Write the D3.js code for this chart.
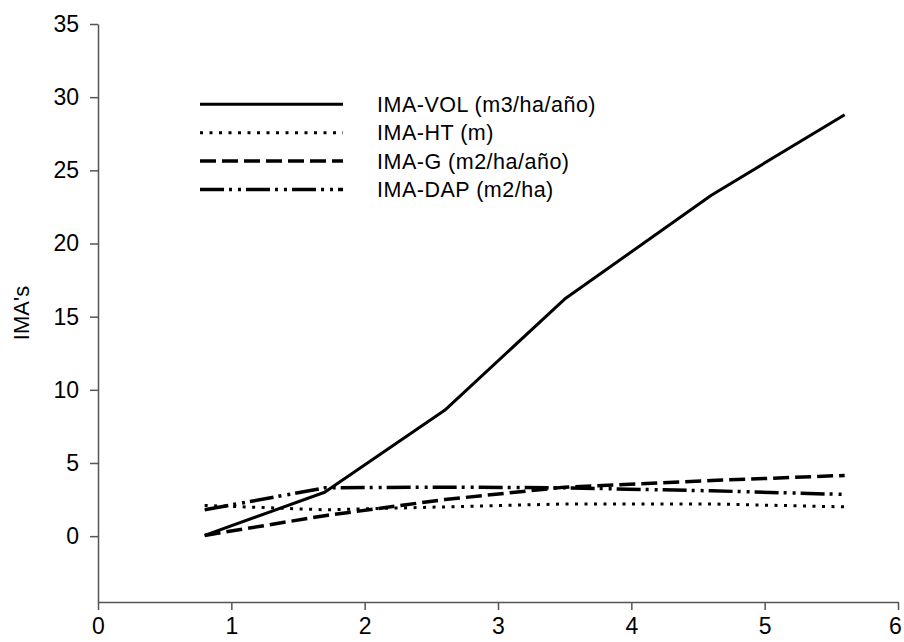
<!DOCTYPE html>
<html>
<head>
<meta charset="utf-8">
<script src="https://cdn.jsdelivr.net/npm/d3@7"></script>
<style>
  body { margin: 0; background: #fff; }
  text { font-family: "Liberation Sans", Arial, sans-serif; fill: #000; }
</style>
</head>
<body>
<div id="chartDiv"></div>
<script>
// data
var ages = [0.8, 1.7, 2.6, 3.5, 4.6, 5.6];
var imaVol = [0.05, 3.0, 8.6, 16.2, 23.3, 28.8];
var imaHt = [2.1, 1.8, 2.0, 2.2, 2.2, 2.0];
var imaG = [0.05, 1.4, 2.5, 3.35, 3.8, 4.15];
var imaDap = [1.8, 3.3, 3.35, 3.3, 3.1, 2.85];
var seriesNames = ["IMA-VOL (m3/ha/año)", "IMA-HT (m)", "IMA-G (m2/ha/año)", "IMA-DAP (m2/ha)"];
var xTicks = [0, 1, 2, 3, 4, 5, 6];
var yTicks = [0, 5, 10, 15, 20, 25, 30, 35];

var chart = {};
chart["width"] = 904,
chart["height"] = 642,
chart["margin"] = {top: 24, right: 6, bottom: 40, left: 98},
chart["xScale"] = d3.scaleLinear()
    .domain([0, 6])
    .range([chart.margin.left, chart.width - chart.margin.right]),
chart["yScale"] = d3.scaleLinear()
    .domain([-4.5, 35])
    .range([chart.height - chart.margin.bottom, chart.margin.top]);

// line styles, one per series
var styles = [
    {width: 3, dash: null},
    {width: 3, dash: "3,6.5"},
    {width: 3.5, dash: "16,6"},
    {width: 3.5, dash: "24,5,3,6,3,5"}
];
var series = [imaVol, imaHt, imaG, imaDap].map(function(vals, i) {
    return {name: seriesNames[i], style: styles[i], values: vals.map(function(v, j) { return {x: ages[j], y: v}; })};
});

var svg = d3.select("#chartDiv").append("svg")
    .attr("width", chart.width)
    .attr("height", chart.height);

// axes
var xAxis = d3.axisBottom(chart["xScale"]).tickValues(xTicks).tickFormat(d3.format("d"))
    .tickSize(8).tickSizeOuter(0).tickPadding(8);
var yAxis = d3.axisLeft(chart["yScale"]).tickValues(yTicks).tickFormat(d3.format("d"))
    .tickSize(8).tickSizeOuter(0).tickPadding(11);

var gx = svg.append("g")
    .attr("class", "x axis")
    .attr("transform", "translate(0," + chart["yScale"](-4.5) + ")")
    .call(xAxis);
var gy = svg.append("g")
    .attr("class", "y axis")
    .attr("transform", "translate(" + chart["xScale"](0) + ",0)")
    .call(yAxis);

svg.selectAll(".axis path, .axis line")
    .attr("stroke", "#555")
    .attr("stroke-width", 1.5);
svg.selectAll(".axis text")
    .style("font-family", "'Liberation Sans', Arial, sans-serif")
    .style("font-size", "23px")
    .attr("fill", "#000");

// keep the last x label inside the picture
gx.selectAll(".tick text").filter(function(d) { return d === 6; })
    .attr("dx", "-3");

svg.append("text")
    .attr("transform", "translate(29," + ((chart.margin.top + chart.height - chart.margin.bottom) / 2) + ") rotate(-90)")
    .style("text-anchor", "middle")
    .style("font-size", "22px")
    .text("IMA's");

// series lines
var line = d3.line()
    .x(function(d) { return chart["xScale"](d.x); })
    .y(function(d) { return chart["yScale"](d.y); });

svg.selectAll(".series")
    .data(series)
    .enter().append("path")
    .attr("class", "series")
    .attr("d", function(d) { return line(d.values); })
    .attr("fill", "none")
    .attr("stroke", "#000")
    .attr("stroke-width", function(d) { return d.style.width; })
    .attr("stroke-dasharray", function(d) { return d.style.dash; })
    .attr("stroke-linejoin", "round");

// legend
var legend = svg.selectAll(".legend")
    .data(series)
    .enter().append("g")
    .attr("class", "legend")
    .attr("transform", function(d, i) { return "translate(200," + (104.3 + i * 28.4) + ")"; });

legend.append("line")
    .attr("x1", 0)
    .attr("x2", 143)
    .attr("stroke", "#000")
    .attr("stroke-width", function(d) { return d.style.width; })
    .attr("stroke-dasharray", function(d) { return d.style.dash; });

legend.append("text")
    .attr("x", 177)
    .attr("dy", "0.36em")
    .style("font-size", "21.5px")
    .style("letter-spacing", "0.5px")
    .text(function(d) { return d.name; });
</script>
</body>
</html>
